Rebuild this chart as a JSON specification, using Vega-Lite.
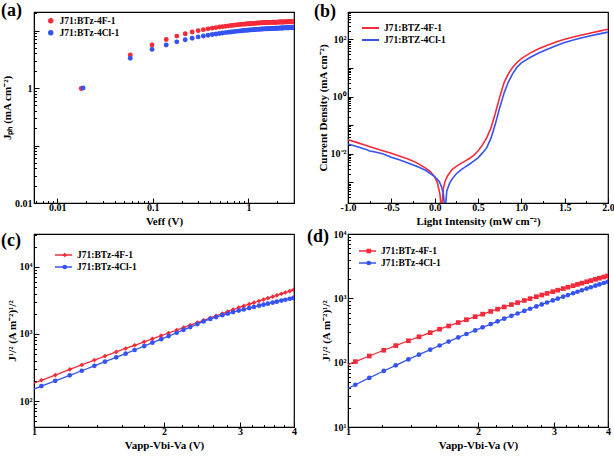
{
"$schema":"https://vega.github.io/schema/vega-lite/v6.json",
"background":"white",
"padding":{"left":0,"top":1,"right":0,"bottom":0},
"columns":2,
"spacing":{"row":-1,"column":8},
"resolve":{"scale":{"x":"independent","y":"independent","color":"independent","fill":"independent","shape":"independent"},"legend":{"color":"independent","fill":"independent","shape":"independent"}},
"config":{
 "view":{"stroke":"#000","strokeWidth":1.2},
 "axis":{"labelFont":"Liberation Serif","labelFontWeight":"bold","labelFontSize":10,"labelColor":"#000","titleFont":"Liberation Serif","titleFontWeight":"bold","titleFontSize":11,"titleColor":"#000","domainColor":"#000","tickColor":"#000","grid":false,"labelFlush":false,"labelOverlap":false,"labelPadding":7},
 "axisX":{"labelPadding":4},
 "legend":{"labelFont":"Liberation Serif","labelFontWeight":"bold","labelFontSize":9.5,"labelColor":"#000","padding":0,"rowPadding":2,"title":null,"orient":"none"},
 "title":{"font":"Liberation Serif","fontWeight":"bold","fontSize":18,"color":"#000","anchor":"start","frame":"group","baseline":"alphabetic"}
},
"concat":[
{
 "width":260,"height":191,
 "title":{"text":"(a)","dx":-33,"offset":-12},
 "data":{"values":[
{"v":0.0178,"j":0.98,"s":"4F"},{"v":0.058,"j":3.75,"s":"4F"},{"v":0.098,"j":5.6,"s":"4F"},{"v":0.138,"j":7.0,"s":"4F"},{"v":0.178,"j":8.0,"s":"4F"},{"v":0.218,"j":8.8,"s":"4F"},{"v":0.258,"j":9.45,"s":"4F"},{"v":0.298,"j":9.95,"s":"4F"},{"v":0.338,"j":10.35,"s":"4F"},{"v":0.378,"j":10.7,"s":"4F"},{"v":0.418,"j":11.0,"s":"4F"},{"v":0.458,"j":11.25,"s":"4F"},{"v":0.498,"j":11.5,"s":"4F"},{"v":0.538,"j":11.7,"s":"4F"},{"v":0.578,"j":11.9,"s":"4F"},{"v":0.618,"j":12.05,"s":"4F"},{"v":0.658,"j":12.2,"s":"4F"},{"v":0.698,"j":12.35,"s":"4F"},{"v":0.738,"j":12.5,"s":"4F"},{"v":0.778,"j":12.6,"s":"4F"},{"v":0.818,"j":12.72,"s":"4F"},{"v":0.858,"j":12.82,"s":"4F"},{"v":0.898,"j":12.92,"s":"4F"},{"v":0.938,"j":13.0,"s":"4F"},{"v":0.978,"j":13.08,"s":"4F"},{"v":1.018,"j":13.15,"s":"4F"},{"v":1.058,"j":13.22,"s":"4F"},{"v":1.098,"j":13.28,"s":"4F"},{"v":1.138,"j":13.34,"s":"4F"},{"v":1.178,"j":13.4,"s":"4F"},{"v":1.218,"j":13.45,"s":"4F"},{"v":1.258,"j":13.5,"s":"4F"},{"v":1.298,"j":13.54,"s":"4F"},{"v":1.338,"j":13.58,"s":"4F"},{"v":1.378,"j":13.62,"s":"4F"},{"v":1.418,"j":13.66,"s":"4F"},{"v":1.458,"j":13.7,"s":"4F"},{"v":1.498,"j":13.73,"s":"4F"},{"v":1.538,"j":13.76,"s":"4F"},{"v":1.578,"j":13.79,"s":"4F"},{"v":1.618,"j":13.82,"s":"4F"},{"v":1.658,"j":13.84,"s":"4F"},{"v":1.698,"j":13.86,"s":"4F"},{"v":1.738,"j":13.88,"s":"4F"},{"v":1.778,"j":13.9,"s":"4F"},{"v":1.818,"j":13.92,"s":"4F"},{"v":1.858,"j":13.94,"s":"4F"},{"v":1.898,"j":13.96,"s":"4F"},{"v":1.938,"j":13.97,"s":"4F"},{"v":1.978,"j":13.99,"s":"4F"},{"v":2.018,"j":14.0,"s":"4F"},{"v":2.058,"j":14.02,"s":"4F"},{"v":2.098,"j":14.03,"s":"4F"},{"v":2.138,"j":14.05,"s":"4F"},{"v":2.178,"j":14.06,"s":"4F"},{"v":2.218,"j":14.07,"s":"4F"},{"v":2.258,"j":14.09,"s":"4F"},{"v":2.298,"j":14.1,"s":"4F"},{"v":2.338,"j":14.11,"s":"4F"},{"v":2.378,"j":14.12,"s":"4F"},{"v":2.418,"j":14.13,"s":"4F"},{"v":2.458,"j":14.14,"s":"4F"},{"v":2.498,"j":14.15,"s":"4F"},{"v":2.538,"j":14.16,"s":"4F"},{"v":2.578,"j":14.17,"s":"4F"},{"v":2.618,"j":14.18,"s":"4F"},{"v":2.658,"j":14.19,"s":"4F"},{"v":2.698,"j":14.2,"s":"4F"},{"v":2.738,"j":14.21,"s":"4F"},{"v":2.778,"j":14.22,"s":"4F"},{"v":2.818,"j":14.23,"s":"4F"},{"v":2.858,"j":14.24,"s":"4F"},{"v":2.898,"j":14.25,"s":"4F"},{"v":2.938,"j":14.26,"s":"4F"},{"v":2.978,"j":14.27,"s":"4F"},
{"v":0.0186,"j":1.0,"s":"4Cl"},{"v":0.058,"j":3.3,"s":"4Cl"},{"v":0.098,"j":4.7,"s":"4Cl"},{"v":0.138,"j":5.6,"s":"4Cl"},{"v":0.178,"j":6.35,"s":"4Cl"},{"v":0.218,"j":6.9,"s":"4Cl"},{"v":0.258,"j":7.35,"s":"4Cl"},{"v":0.298,"j":7.75,"s":"4Cl"},{"v":0.338,"j":8.05,"s":"4Cl"},{"v":0.378,"j":8.3,"s":"4Cl"},{"v":0.418,"j":8.52,"s":"4Cl"},{"v":0.458,"j":8.72,"s":"4Cl"},{"v":0.498,"j":8.9,"s":"4Cl"},{"v":0.538,"j":9.05,"s":"4Cl"},{"v":0.578,"j":9.2,"s":"4Cl"},{"v":0.618,"j":9.33,"s":"4Cl"},{"v":0.658,"j":9.45,"s":"4Cl"},{"v":0.698,"j":9.56,"s":"4Cl"},{"v":0.738,"j":9.67,"s":"4Cl"},{"v":0.778,"j":9.76,"s":"4Cl"},{"v":0.818,"j":9.85,"s":"4Cl"},{"v":0.858,"j":9.93,"s":"4Cl"},{"v":0.898,"j":10.0,"s":"4Cl"},{"v":0.938,"j":10.07,"s":"4Cl"},{"v":0.978,"j":10.14,"s":"4Cl"},{"v":1.018,"j":10.2,"s":"4Cl"},{"v":1.058,"j":10.26,"s":"4Cl"},{"v":1.098,"j":10.31,"s":"4Cl"},{"v":1.138,"j":10.36,"s":"4Cl"},{"v":1.178,"j":10.41,"s":"4Cl"},{"v":1.218,"j":10.45,"s":"4Cl"},{"v":1.258,"j":10.49,"s":"4Cl"},{"v":1.298,"j":10.53,"s":"4Cl"},{"v":1.338,"j":10.57,"s":"4Cl"},{"v":1.378,"j":10.6,"s":"4Cl"},{"v":1.418,"j":10.64,"s":"4Cl"},{"v":1.458,"j":10.67,"s":"4Cl"},{"v":1.498,"j":10.7,"s":"4Cl"},{"v":1.538,"j":10.73,"s":"4Cl"},{"v":1.578,"j":10.76,"s":"4Cl"},{"v":1.618,"j":10.78,"s":"4Cl"},{"v":1.658,"j":10.81,"s":"4Cl"},{"v":1.698,"j":10.83,"s":"4Cl"},{"v":1.738,"j":10.85,"s":"4Cl"},{"v":1.778,"j":10.87,"s":"4Cl"},{"v":1.818,"j":10.89,"s":"4Cl"},{"v":1.858,"j":10.91,"s":"4Cl"},{"v":1.898,"j":10.93,"s":"4Cl"},{"v":1.938,"j":10.95,"s":"4Cl"},{"v":1.978,"j":10.97,"s":"4Cl"},{"v":2.018,"j":10.98,"s":"4Cl"},{"v":2.058,"j":11.0,"s":"4Cl"},{"v":2.098,"j":11.02,"s":"4Cl"},{"v":2.138,"j":11.03,"s":"4Cl"},{"v":2.178,"j":11.05,"s":"4Cl"},{"v":2.218,"j":11.06,"s":"4Cl"},{"v":2.258,"j":11.08,"s":"4Cl"},{"v":2.298,"j":11.09,"s":"4Cl"},{"v":2.338,"j":11.1,"s":"4Cl"},{"v":2.378,"j":11.12,"s":"4Cl"},{"v":2.418,"j":11.13,"s":"4Cl"},{"v":2.458,"j":11.14,"s":"4Cl"},{"v":2.498,"j":11.15,"s":"4Cl"},{"v":2.538,"j":11.17,"s":"4Cl"},{"v":2.578,"j":11.18,"s":"4Cl"},{"v":2.618,"j":11.19,"s":"4Cl"},{"v":2.658,"j":11.2,"s":"4Cl"},{"v":2.698,"j":11.21,"s":"4Cl"},{"v":2.738,"j":11.22,"s":"4Cl"},{"v":2.778,"j":11.23,"s":"4Cl"},{"v":2.818,"j":11.24,"s":"4Cl"},{"v":2.858,"j":11.25,"s":"4Cl"},{"v":2.898,"j":11.26,"s":"4Cl"},{"v":2.938,"j":11.27,"s":"4Cl"},{"v":2.978,"j":11.28,"s":"4Cl"}
 ]},
 "mark":{"type":"point","filled":true,"size":24,"opacity":1,"clip":true},
 "encoding":{
  "x":{"field":"v","type":"quantitative","scale":{"type":"log","domain":[0.0057,3],"nice":false},
   "axis":{"title":"Veff (V)","values":[0.006,0.007,0.008,0.009,0.01,0.02,0.03,0.04,0.05,0.06,0.07,0.08,0.09,0.1,0.2,0.3,0.4,0.5,0.6,0.7,0.8,0.9,1,2,3],
    "labelExpr":"datum.value==0.01?'0.01':datum.value==0.1?'0.1':datum.value==1?'1':''",
    "tickSize":{"condition":{"test":"abs(log(datum.value)/LN10-round(log(datum.value)/LN10))<0.001","value":-5},"value":-2.5},"titlePadding":1}},
  "y":{"field":"j","type":"quantitative","scale":{"type":"log","domain":[0.01,21],"nice":false},
   "axis":{"title":"Jₚₕ (mA cm⁻²)","values":[0.01,0.02,0.03,0.04,0.05,0.06,0.07,0.08,0.09,0.1,0.2,0.3,0.4,0.5,0.6,0.7,0.8,0.9,1,2,3,4,5,6,7,8,9,10,20],
    "labelExpr":"datum.value==0.01?'0.01':datum.value==1?'1':''",
    "tickSize":{"condition":{"test":"abs(log(datum.value)/LN10-round(log(datum.value)/LN10))<0.001","value":-5},"value":-2.5},"titlePadding":2}},
  "color":{"field":"s","type":"nominal","scale":{"domain":["4F","4Cl"],"range":["#f52a3a","#3553f0"]},
   "legend":{"legendX":12,"legendY":4,"symbolType":"circle","symbolSize":30,"rowPadding":1,"labelExpr":"'J71:BTz-'+datum.label+'-1'"}}
 }
},
{
 "width":260,"height":191,
 "title":{"text":"(b)","dx":-34,"offset":-14},
 "data":{"values":[
{"v":-1.0,"j":0.031,"s":"4F"},{"v":-0.9,"j":0.025,"s":"4F"},{"v":-0.8,"j":0.02,"s":"4F"},{"v":-0.7,"j":0.016,"s":"4F"},{"v":-0.6,"j":0.0128,"s":"4F"},{"v":-0.5,"j":0.0105,"s":"4F"},{"v":-0.4,"j":0.0082,"s":"4F"},{"v":-0.3,"j":0.0064,"s":"4F"},{"v":-0.2,"j":0.0047,"s":"4F"},{"v":-0.1,"j":0.0031,"s":"4F"},{"v":-0.05,"j":0.0024,"s":"4F"},{"v":0.0,"j":0.00155,"s":"4F"},{"v":0.03,"j":0.001,"s":"4F"},{"v":0.06,"j":0.0004,"s":"4F"},{"v":0.08,"j":0.0001,"s":"4F"},{"v":0.1,"j":0.0006,"s":"4F"},{"v":0.12,"j":0.0011,"s":"4F"},{"v":0.15,"j":0.0017,"s":"4F"},{"v":0.2,"j":0.0028,"s":"4F"},{"v":0.25,"j":0.0036,"s":"4F"},{"v":0.3,"j":0.0045,"s":"4F"},{"v":0.35,"j":0.0055,"s":"4F"},{"v":0.4,"j":0.0068,"s":"4F"},{"v":0.45,"j":0.0088,"s":"4F"},{"v":0.5,"j":0.0125,"s":"4F"},{"v":0.55,"j":0.02,"s":"4F"},{"v":0.6,"j":0.036,"s":"4F"},{"v":0.65,"j":0.08,"s":"4F"},{"v":0.7,"j":0.26,"s":"4F"},{"v":0.75,"j":0.95,"s":"4F"},{"v":0.8,"j":3.0,"s":"4F"},{"v":0.85,"j":6.2,"s":"4F"},{"v":0.9,"j":10.5,"s":"4F"},{"v":0.95,"j":15.5,"s":"4F"},{"v":1.0,"j":21,"s":"4F"},{"v":1.1,"j":33,"s":"4F"},{"v":1.2,"j":47,"s":"4F"},{"v":1.3,"j":62,"s":"4F"},{"v":1.4,"j":80,"s":"4F"},{"v":1.5,"j":100,"s":"4F"},{"v":1.6,"j":120,"s":"4F"},{"v":1.7,"j":142,"s":"4F"},{"v":1.8,"j":165,"s":"4F"},{"v":1.9,"j":193,"s":"4F"},{"v":2.0,"j":224,"s":"4F"},
{"v":-1.0,"j":0.022,"s":"4Cl"},{"v":-0.9,"j":0.018,"s":"4Cl"},{"v":-0.8,"j":0.0145,"s":"4Cl"},{"v":-0.75,"j":0.0125,"s":"4Cl"},{"v":-0.7,"j":0.0117,"s":"4Cl"},{"v":-0.6,"j":0.01,"s":"4Cl"},{"v":-0.5,"j":0.0076,"s":"4Cl"},{"v":-0.4,"j":0.006,"s":"4Cl"},{"v":-0.3,"j":0.0047,"s":"4Cl"},{"v":-0.2,"j":0.0036,"s":"4Cl"},{"v":-0.1,"j":0.0026,"s":"4Cl"},{"v":0.0,"j":0.0016,"s":"4Cl"},{"v":0.05,"j":0.0011,"s":"4Cl"},{"v":0.08,"j":0.0007,"s":"4Cl"},{"v":0.1,"j":0.0004,"s":"4Cl"},{"v":0.12,"j":0.0001,"s":"4Cl"},{"v":0.14,"j":0.0005,"s":"4Cl"},{"v":0.17,"j":0.0009,"s":"4Cl"},{"v":0.2,"j":0.0013,"s":"4Cl"},{"v":0.25,"j":0.002,"s":"4Cl"},{"v":0.3,"j":0.0027,"s":"4Cl"},{"v":0.35,"j":0.0034,"s":"4Cl"},{"v":0.4,"j":0.0043,"s":"4Cl"},{"v":0.45,"j":0.0055,"s":"4Cl"},{"v":0.5,"j":0.0072,"s":"4Cl"},{"v":0.55,"j":0.0105,"s":"4Cl"},{"v":0.6,"j":0.016,"s":"4Cl"},{"v":0.65,"j":0.035,"s":"4Cl"},{"v":0.7,"j":0.11,"s":"4Cl"},{"v":0.75,"j":0.4,"s":"4Cl"},{"v":0.8,"j":1.3,"s":"4Cl"},{"v":0.85,"j":3.2,"s":"4Cl"},{"v":0.9,"j":6.3,"s":"4Cl"},{"v":0.95,"j":10.5,"s":"4Cl"},{"v":1.0,"j":15,"s":"4Cl"},{"v":1.1,"j":23,"s":"4Cl"},{"v":1.2,"j":33,"s":"4Cl"},{"v":1.3,"j":45,"s":"4Cl"},{"v":1.4,"j":60,"s":"4Cl"},{"v":1.5,"j":78,"s":"4Cl"},{"v":1.6,"j":95,"s":"4Cl"},{"v":1.7,"j":113,"s":"4Cl"},{"v":1.8,"j":133,"s":"4Cl"},{"v":1.9,"j":155,"s":"4Cl"},{"v":2.0,"j":178,"s":"4Cl"}
 ]},
 "mark":{"type":"line","strokeWidth":1.6,"clip":true},
 "encoding":{
  "x":{"field":"v","type":"quantitative","scale":{"domain":[-1,2],"nice":false,"zero":false},
   "axis":{"title":"Light Intensity (mW cm⁻²)","values":[-1,-0.75,-0.5,-0.25,0,0.25,0.5,0.75,1,1.25,1.5,1.75,2],
    "labelExpr":"abs(datum.value*2-round(datum.value*2))<0.001?(datum.value<0?'-':'')+format(abs(datum.value),'.1f'):''",
    "tickSize":{"condition":{"test":"abs(datum.value*2-round(datum.value*2))<0.001","value":-5},"value":-2.5},"titlePadding":1}},
  "y":{"field":"j","type":"quantitative","scale":{"type":"log","domain":[0.00019,900],"nice":false},
   "axis":{"title":"Current Density (mA cm⁻²)","values":[0.0003,0.0004,0.0005,0.0006,0.0007,0.0008,0.0009,0.001,0.002,0.003,0.004,0.005,0.006,0.007,0.008,0.009,0.01,0.02,0.03,0.04,0.05,0.06,0.07,0.08,0.09,0.1,0.2,0.3,0.4,0.5,0.6,0.7,0.8,0.9,1,2,3,4,5,6,7,8,9,10,20,30,40,50,60,70,80,90,100,200,300,400,500,600,700,800,900],
    "labelExpr":"datum.value==0.01?'10⁻²':datum.value==1?'10⁰':datum.value==100?'10²':''",
    "tickSize":{"condition":{"test":"abs(log(datum.value)/LN10-round(log(datum.value)/LN10))<0.001","value":-5},"value":-2.5},"titlePadding":2}},
  "color":{"field":"s","type":"nominal","scale":{"domain":["4F","4Cl"],"range":["#f52a3a","#3553f0"]},
   "legend":{"legendX":13,"legendY":11,"symbolType":"stroke","symbolSize":289,"symbolStrokeWidth":2,"clipHeight":10,"rowPadding":2,"labelExpr":"'J71:BTZ-'+datum.label+'-1'"}}
 }
},
{
 "width":260,"height":193,
 "title":{"text":"(c)","dx":-33,"offset":-20},
 "data":{"values":[
{"v":1.0,"j":185,"s":"4F"},{"v":1.04,"j":204,"s":"4F"},{"v":1.12,"j":244,"s":"4F"},{"v":1.21,"j":296,"s":"4F"},{"v":1.29,"j":346,"s":"4F"},{"v":1.38,"j":408,"s":"4F"},{"v":1.46,"j":469,"s":"4F"},{"v":1.55,"j":541,"s":"4F"},{"v":1.63,"j":608,"s":"4F"},{"v":1.71,"j":679,"s":"4F"},{"v":1.8,"j":765,"s":"4F"},{"v":1.88,"j":847,"s":"4F"},{"v":1.97,"j":944,"s":"4F"},{"v":2.05,"j":1035,"s":"4F"},{"v":2.14,"j":1145,"s":"4F"},{"v":2.22,"j":1247,"s":"4F"},{"v":2.3,"j":1352,"s":"4F"},{"v":2.39,"j":1479,"s":"4F"},{"v":2.47,"j":1600,"s":"4F"},{"v":2.56,"j":1738,"s":"4F"},{"v":2.64,"j":1866,"s":"4F"},{"v":2.73,"j":2018,"s":"4F"},{"v":2.81,"j":2158,"s":"4F"},{"v":2.89,"j":2305,"s":"4F"},{"v":2.98,"j":2476,"s":"4F"},{"v":3.06,"j":2618,"s":"4F"},{"v":3.15,"j":2780,"s":"4F"},{"v":3.23,"j":2931,"s":"4F"},{"v":3.32,"j":3105,"s":"4F"},{"v":3.4,"j":3260,"s":"4F"},{"v":3.48,"j":3420,"s":"4F"},{"v":3.57,"j":3606,"s":"4F"},{"v":3.65,"j":3776,"s":"4F"},{"v":3.74,"j":3979,"s":"4F"},{"v":3.82,"j":4155,"s":"4F"},{"v":3.91,"j":4361,"s":"4F"},{"v":3.99,"j":4550,"s":"4F"},
{"v":1.0,"j":151,"s":"4Cl"},{"v":1.04,"j":167,"s":"4Cl"},{"v":1.12,"j":200,"s":"4Cl"},{"v":1.21,"j":242,"s":"4Cl"},{"v":1.29,"j":283,"s":"4Cl"},{"v":1.38,"j":335,"s":"4Cl"},{"v":1.46,"j":386,"s":"4Cl"},{"v":1.55,"j":448,"s":"4Cl"},{"v":1.63,"j":509,"s":"4Cl"},{"v":1.71,"j":577,"s":"4Cl"},{"v":1.8,"j":660,"s":"4Cl"},{"v":1.88,"j":741,"s":"4Cl"},{"v":1.97,"j":837,"s":"4Cl"},{"v":2.05,"j":931,"s":"4Cl"},{"v":2.14,"j":1044,"s":"4Cl"},{"v":2.22,"j":1153,"s":"4Cl"},{"v":2.3,"j":1268,"s":"4Cl"},{"v":2.39,"j":1407,"s":"4Cl"},{"v":2.47,"j":1539,"s":"4Cl"},{"v":2.56,"j":1676,"s":"4Cl"},{"v":2.64,"j":1790,"s":"4Cl"},{"v":2.73,"j":1909,"s":"4Cl"},{"v":2.81,"j":2013,"s":"4Cl"},{"v":2.89,"j":2121,"s":"4Cl"},{"v":2.98,"j":2233,"s":"4Cl"},{"v":3.06,"j":2323,"s":"4Cl"},{"v":3.15,"j":2432,"s":"4Cl"},{"v":3.23,"j":2529,"s":"4Cl"},{"v":3.32,"j":2642,"s":"4Cl"},{"v":3.4,"j":2735,"s":"4Cl"},{"v":3.48,"j":2832,"s":"4Cl"},{"v":3.57,"j":2939,"s":"4Cl"},{"v":3.65,"j":3036,"s":"4Cl"},{"v":3.74,"j":3147,"s":"4Cl"},{"v":3.82,"j":3241,"s":"4Cl"},{"v":3.91,"j":3354,"s":"4Cl"},{"v":3.99,"j":3453,"s":"4Cl"}
 ]},
 "encoding":{
  "x":{"field":"v","type":"quantitative","scale":{"type":"log","domain":[1,4],"nice":false},
   "axis":{"title":"Vapp-Vbi-Va (V)","values":[1,1.2,1.4,1.6,1.8,2,2.2,2.4,2.6,2.8,3,3.2,3.4,3.6,3.8,4],
    "labelExpr":"datum.value==round(datum.value)?format(datum.value,'d'):''",
    "tickSize":{"condition":{"test":"datum.value==round(datum.value)","value":-5},"value":-2.5},"titlePadding":1}},
  "y":{"field":"j","type":"quantitative","scale":{"type":"log","domain":[41,31000],"nice":false},
   "axis":{"title":"J¹/²  (A m⁻²)¹/²","values":[50,60,70,80,90,100,200,300,400,500,600,700,800,900,1000,2000,3000,4000,5000,6000,7000,8000,9000,10000,20000,30000],
    "labelExpr":"datum.value==100?'10²':datum.value==1000?'10³':datum.value==10000?'10⁴':''",
    "tickSize":{"condition":{"test":"abs(log(datum.value)/LN10-round(log(datum.value)/LN10))<0.001","value":-5},"value":-2.5},"titlePadding":2}}
 },
 "layer":[
  {"mark":{"type":"line","strokeWidth":1.3,"clip":true},
   "encoding":{"color":{"field":"s","type":"nominal","scale":{"domain":["4F","4Cl"],"range":["#f52a3a","#3553f0"]},
    "legend":{"legendX":20,"legendY":16,"symbolType":"stroke","symbolSize":289,"symbolStrokeWidth":1.5,"clipHeight":10,"rowPadding":2,"labelExpr":"'J71:BTz-'+datum.label+'-1'"}}}},
  {"transform":[{"filter":"datum.v>1.01"}],
   "mark":{"type":"point","filled":true,"size":22,"opacity":1,"clip":true},
   "encoding":{"fill":{"field":"s","type":"nominal","scale":{"domain":["4F","4Cl","none"],"range":["#f52a3a","#3553f0","#000000"]},
     "legend":{"values":["4F","4Cl"],"legendX":26,"legendY":16,"symbolSize":22,"clipHeight":10,"rowPadding":2,"labelOpacity":0,"labelExpr":"'J71:BTz-'+datum.label+'-1'"}},
    "shape":{"field":"s","type":"nominal","scale":{"domain":["4F","4Cl","none"],"range":["diamond","circle","square"]},
     "legend":{"values":["4F","4Cl"],"legendX":26,"legendY":16,"symbolSize":22,"clipHeight":10,"rowPadding":2,"labelOpacity":0,"labelExpr":"'J71:BTz-'+datum.label+'-1'"}}}}
 ]
},
{
 "width":260,"height":193,
 "title":{"text":"(d)","dx":-41,"offset":-17},
 "data":{"values":[
{"v":1.0,"j":93.3,"s":"4F"},{"v":1.04,"j":103.9,"s":"4F"},{"v":1.12,"j":127,"s":"4F"},{"v":1.21,"j":156,"s":"4F"},{"v":1.29,"j":184.3,"s":"4F"},{"v":1.38,"j":219,"s":"4F"},{"v":1.46,"j":252.6,"s":"4F"},{"v":1.55,"j":292.9,"s":"4F"},{"v":1.63,"j":331.3,"s":"4F"},{"v":1.71,"j":371.9,"s":"4F"},{"v":1.8,"j":420.3,"s":"4F"},{"v":1.88,"j":465.5,"s":"4F"},{"v":1.97,"j":518.8,"s":"4F"},{"v":2.05,"j":568.3,"s":"4F"},{"v":2.14,"j":625.9,"s":"4F"},{"v":2.22,"j":679.6,"s":"4F"},{"v":2.3,"j":734.7,"s":"4F"},{"v":2.39,"j":799,"s":"4F"},{"v":2.47,"j":858,"s":"4F"},{"v":2.56,"j":926.4,"s":"4F"},{"v":2.64,"j":988.5,"s":"4F"},{"v":2.73,"j":1060.5,"s":"4F"},{"v":2.81,"j":1126,"s":"4F"},{"v":2.89,"j":1193,"s":"4F"},{"v":2.98,"j":1269,"s":"4F"},{"v":3.06,"j":1339,"s":"4F"},{"v":3.15,"j":1418,"s":"4F"},{"v":3.23,"j":1491,"s":"4F"},{"v":3.32,"j":1573,"s":"4F"},{"v":3.4,"j":1648,"s":"4F"},{"v":3.48,"j":1724,"s":"4F"},{"v":3.57,"j":1810,"s":"4F"},{"v":3.65,"j":1888,"s":"4F"},{"v":3.74,"j":1976,"s":"4F"},{"v":3.82,"j":2056,"s":"4F"},{"v":3.91,"j":2146,"s":"4F"},{"v":3.99,"j":2227,"s":"4F"},
{"v":1.0,"j":39.8,"s":"4Cl"},{"v":1.04,"j":45.4,"s":"4Cl"},{"v":1.12,"j":57.9,"s":"4Cl"},{"v":1.21,"j":74.3,"s":"4Cl"},{"v":1.29,"j":91,"s":"4Cl"},{"v":1.38,"j":112.2,"s":"4Cl"},{"v":1.46,"j":133.3,"s":"4Cl"},{"v":1.55,"j":159.4,"s":"4Cl"},{"v":1.63,"j":185,"s":"4Cl"},{"v":1.71,"j":212.7,"s":"4Cl"},{"v":1.8,"j":246.6,"s":"4Cl"},{"v":1.88,"j":278.8,"s":"4Cl"},{"v":1.97,"j":317.6,"s":"4Cl"},{"v":2.05,"j":354.5,"s":"4Cl"},{"v":2.14,"j":398.2,"s":"4Cl"},{"v":2.22,"j":439.5,"s":"4Cl"},{"v":2.3,"j":482.6,"s":"4Cl"},{"v":2.39,"j":533.8,"s":"4Cl"},{"v":2.47,"j":581.4,"s":"4Cl"},{"v":2.56,"j":636.8,"s":"4Cl"},{"v":2.64,"j":688.7,"s":"4Cl"},{"v":2.73,"j":749.2,"s":"4Cl"},{"v":2.81,"j":804.4,"s":"4Cl"},{"v":2.89,"j":861.8,"s":"4Cl"},{"v":2.98,"j":928.1,"s":"4Cl"},{"v":3.06,"j":989,"s":"4Cl"},{"v":3.15,"j":1060,"s":"4Cl"},{"v":3.23,"j":1124,"s":"4Cl"},{"v":3.32,"j":1199,"s":"4Cl"},{"v":3.4,"j":1267,"s":"4Cl"},{"v":3.48,"j":1336,"s":"4Cl"},{"v":3.57,"j":1416,"s":"4Cl"},{"v":3.65,"j":1488,"s":"4Cl"},{"v":3.74,"j":1571,"s":"4Cl"},{"v":3.82,"j":1646,"s":"4Cl"},{"v":3.91,"j":1732,"s":"4Cl"},{"v":3.99,"j":1810,"s":"4Cl"}
 ]},
 "encoding":{
  "x":{"field":"v","type":"quantitative","scale":{"type":"log","domain":[1,4],"nice":false},
   "axis":{"title":"Vapp-Vbi-Va (V)","values":[1,1.2,1.4,1.6,1.8,2,2.2,2.4,2.6,2.8,3,3.2,3.4,3.6,3.8,4],
    "labelExpr":"datum.value==round(datum.value)?format(datum.value,'d'):''",
    "tickSize":{"condition":{"test":"datum.value==round(datum.value)","value":-5},"value":-2.5},"titlePadding":1}},
  "y":{"field":"j","type":"quantitative","scale":{"type":"log","domain":[10,10000],"nice":false},
   "axis":{"title":"J¹/²  (A m⁻²)¹/²","values":[10,20,30,40,50,60,70,80,90,100,200,300,400,500,600,700,800,900,1000,2000,3000,4000,5000,6000,7000,8000,9000,10000],
    "labelExpr":"datum.value==10?'10¹':datum.value==100?'10²':datum.value==1000?'10³':datum.value==10000?'10⁴':''",
    "tickSize":{"condition":{"test":"abs(log(datum.value)/LN10-round(log(datum.value)/LN10))<0.001","value":-5},"value":-2.5},"titlePadding":2}}
 },
 "layer":[
  {"mark":{"type":"line","strokeWidth":1.3,"clip":true},
   "encoding":{"color":{"field":"s","type":"nominal","scale":{"domain":["4F","4Cl"],"range":["#f52a3a","#3553f0"]},
    "legend":{"legendX":10,"legendY":12,"symbolType":"stroke","symbolSize":289,"symbolStrokeWidth":1.5,"clipHeight":10,"rowPadding":2,"labelExpr":"'J71:BTz-'+datum.label+'-1'"}}}},
  {"transform":[{"filter":"datum.v>1.01"}],
   "mark":{"type":"point","filled":true,"size":22,"opacity":1,"clip":true},
   "encoding":{"fill":{"field":"s","type":"nominal","scale":{"domain":["4F","4Cl","none"],"range":["#f52a3a","#3553f0","#000000"]},
     "legend":{"values":["4F","4Cl"],"legendX":16,"legendY":12,"symbolSize":22,"clipHeight":10,"rowPadding":2,"labelOpacity":0,"labelExpr":"'J71:BTz-'+datum.label+'-1'"}},
    "shape":{"field":"s","type":"nominal","scale":{"domain":["4F","4Cl","none"],"range":["square","circle","diamond"]},
     "legend":{"values":["4F","4Cl"],"legendX":16,"legendY":12,"symbolSize":22,"clipHeight":10,"rowPadding":2,"labelOpacity":0,"labelExpr":"'J71:BTz-'+datum.label+'-1'"}}}}
 ]
}
]
}
